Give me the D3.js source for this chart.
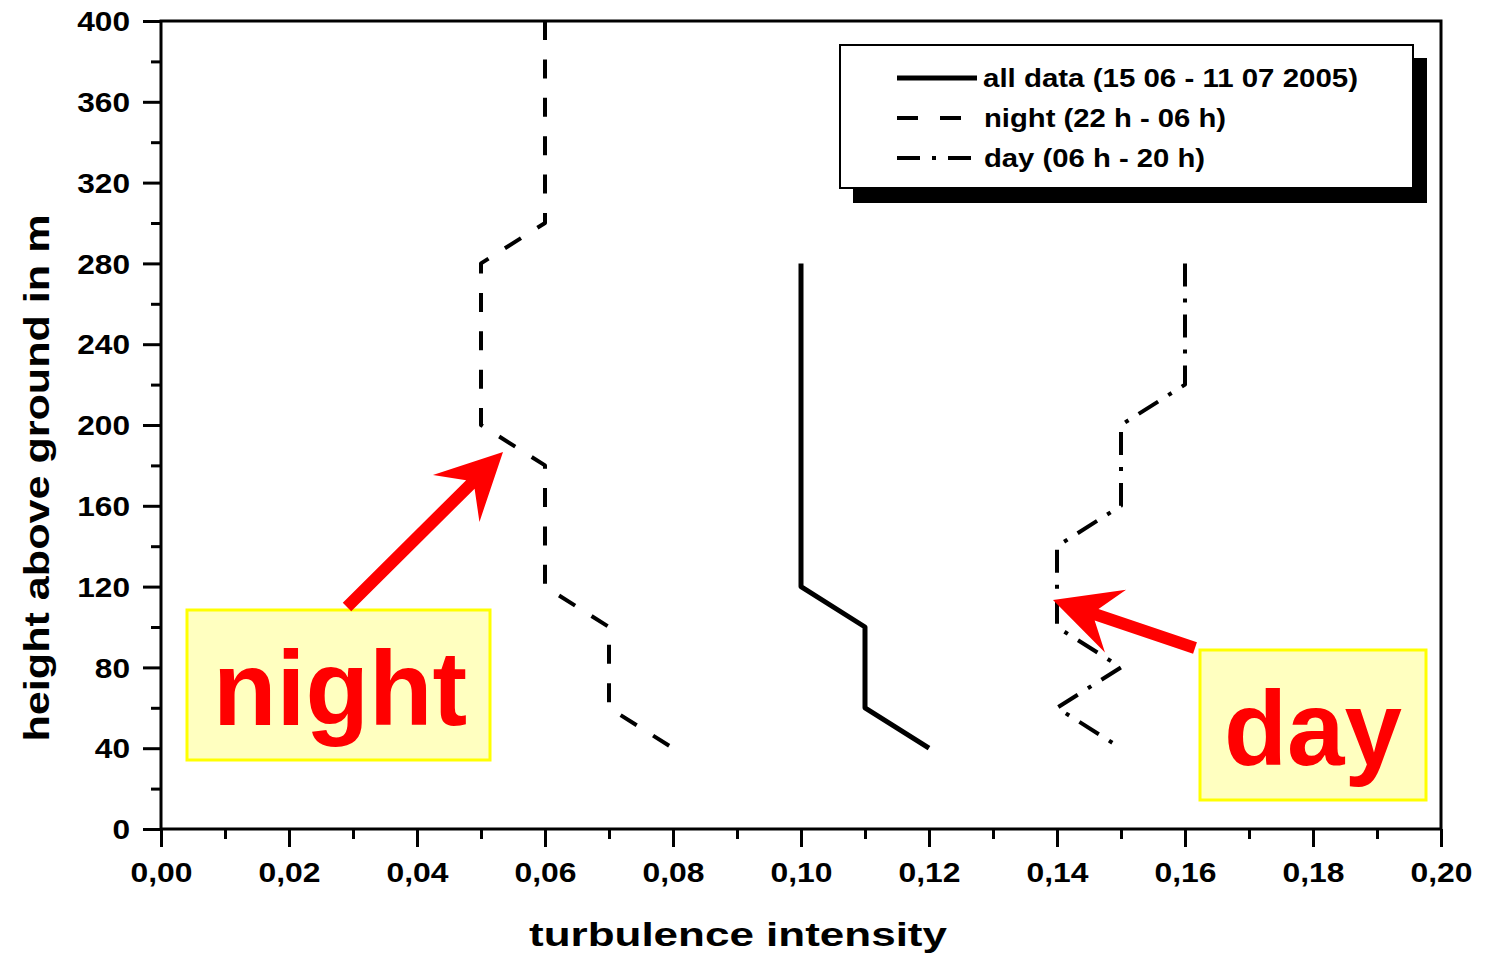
<!DOCTYPE html>
<html>
<head>
<meta charset="utf-8">
<script src="https://cdnjs.cloudflare.com/ajax/libs/d3/7.8.5/d3.min.js"></script>
<style>
  html, body { margin: 0; padding: 0; background: #fff; }
  svg { display: block; }
  text { font-family: "Liberation Sans", Arial, sans-serif; font-weight: bold; fill: #000; }
</style>
</head>
<body>
<svg id="chart" width="1489" height="956"></svg>
<script>
// Sodar profile heights (m) and turbulence intensity per series
const heights = [40, 60, 80, 100, 120, 140, 160, 180, 200, 220, 240, 260, 280, 300, 320, 340, 360, 380, 400];
const allData = [0.12, 0.11, 0.11, 0.11, 0.10, 0.10, 0.10, 0.10, 0.10, 0.10, 0.10, 0.10, 0.10];
const night   = [0.08, 0.07, 0.07, 0.07, 0.06, 0.06, 0.06, 0.06, 0.05, 0.05, 0.05, 0.05, 0.05, 0.06, 0.06, 0.06, 0.06, 0.06, 0.06];
const day     = [0.15, 0.14, 0.15, 0.14, 0.14, 0.14, 0.15, 0.15, 0.15, 0.16, 0.16, 0.16, 0.16];

const seriesNames = ["all data (15 06 - 11 07 2005)", "night (22 h - 06 h)", "day (06 h - 20 h)"];
const xTicks = [0, 0.02, 0.04, 0.06, 0.08, 0.10, 0.12, 0.14, 0.16, 0.18, 0.20];
const yTicks = [0, 40, 80, 120, 160, 200, 240, 280, 320, 360, 400];
const xTitle = "turbulence intensity";
const yTitle = "height above ground in m";

const svg = d3.select("#chart");
const x = d3.scaleLinear().domain([0, 0.2]).range([161, 1441]);
const y = d3.scaleLinear().domain([0, 400]).range([829, 21]);

// ---- axes ----
const fmt = d => d3.format(".2f")(d).replace(".", ",");

// minor ticks
svg.append("g").attr("transform", `translate(0,${y(0)})`)
  .call(d3.axisBottom(x).tickValues(d3.range(0.01, 0.2, 0.02)).tickSize(10).tickFormat(""))
  .call(g => g.select(".domain").remove())
  .call(g => g.selectAll("line").attr("stroke", "#000").attr("stroke-width", 3));
svg.append("g").attr("transform", `translate(${x(0)},0)`)
  .call(d3.axisLeft(y).tickValues(d3.range(20, 400, 40)).tickSize(10).tickFormat(""))
  .call(g => g.select(".domain").remove())
  .call(g => g.selectAll("line").attr("stroke", "#000").attr("stroke-width", 3));

// major ticks + labels
svg.append("g").attr("transform", `translate(0,${y(0)})`)
  .call(d3.axisBottom(x).tickValues(xTicks).tickSize(18).tickPadding(0).tickFormat(fmt))
  .call(g => g.select(".domain").remove())
  .call(g => g.selectAll("line").attr("stroke", "#000").attr("stroke-width", 3))
  .call(g => g.selectAll("text")
    .attr("y", 53).attr("dy", null)
    .style("font-size", "27px")
    .attr("textLength", 62).attr("lengthAdjust", "spacingAndGlyphs"));

svg.append("g").attr("transform", `translate(${x(0)},0)`)
  .call(d3.axisLeft(y).tickValues(yTicks).tickSize(18).tickPadding(0).tickFormat(d3.format("d")))
  .call(g => g.select(".domain").remove())
  .call(g => g.selectAll("line").attr("stroke", "#000").attr("stroke-width", 3))
  .call(g => g.selectAll("text")
    .attr("x", -31).attr("dy", "0.36em")
    .style("font-size", "27px")
    .attr("textLength", d => String(d).length * 17.6).attr("lengthAdjust", "spacingAndGlyphs"));

// frame
svg.append("rect")
  .attr("x", x(0)).attr("y", y(400))
  .attr("width", x(0.2) - x(0)).attr("height", y(0) - y(400))
  .attr("fill", "none").attr("stroke", "#000").attr("stroke-width", 3);

// axis titles
svg.append("text")
  .attr("x", 738).attr("y", 946).attr("text-anchor", "middle")
  .style("font-size", "34px")
  .attr("textLength", 418).attr("lengthAdjust", "spacingAndGlyphs")
  .text(xTitle);
svg.append("text")
  .attr("transform", "translate(49,478) rotate(-90)")
  .attr("text-anchor", "middle")
  .style("font-size", "35px")
  .attr("textLength", 527).attr("lengthAdjust", "spacingAndGlyphs")
  .text(yTitle);

// ---- profiles (drawn from the top down) ----
const line = d3.line().x(d => x(d.v)).y(d => y(d.h));
const toPts = vals => vals.map((v, i) => ({ h: heights[i], v })).reverse();

const styles = [
  { vals: allData, width: 5, dash: null },
  { vals: night, width: 4, dash: "19,19.4" },
  { vals: day, width: 4, dash: "23,12,4,12" }
];

svg.selectAll("path.profile").data(styles).join("path")
  .attr("class", "profile")
  .attr("d", s => line(toPts(s.vals)))
  .attr("fill", "none").attr("stroke", "#000")
  .attr("stroke-width", s => s.width)
  .attr("stroke-linejoin", "round")
  .attr("stroke-dasharray", s => s.dash);

// ---- legend ----
const lg = svg.append("g");
lg.append("rect").attr("x", 853).attr("y", 58).attr("width", 574).attr("height", 145).attr("fill", "#000");
lg.append("rect").attr("x", 840).attr("y", 45).attr("width", 573).attr("height", 143)
  .attr("fill", "#fff").attr("stroke", "#000").attr("stroke-width", 2);
const textLens = [375, 242, 221];
seriesNames.forEach((name, i) => {
  const cy = 78 + i * 40;
  lg.append("line")
    .attr("x1", 897).attr("x2", i === 1 ? 962 : 977).attr("y1", cy).attr("y2", cy)
    .attr("stroke", "#000").attr("stroke-width", i === 0 ? 5 : 4)
    .attr("stroke-dasharray", i === 0 ? null : (i === 1 ? "21,22" : "23,12,4,12"));
  lg.append("text")
    .attr("x", i === 0 ? 983 : 984).attr("y", cy + 9)
    .style("font-size", "26px")
    .attr("textLength", textLens[i]).attr("lengthAdjust", "spacingAndGlyphs")
    .text(name);
});

// ---- annotations ----
function arrow(tail, tip) {
  const dx = tail[0] - tip[0], dy = tail[1] - tip[1];
  const len = Math.hypot(dx, dy);
  const ux = dx / len, uy = dy / len, px = -uy, py = ux;
  const P = (a, b) => [tip[0] + ux * a + px * b, tip[1] + uy * a + py * b];
  const pts = [P(0, 0), P(66, 33), P(46, 6), P(len, 6), P(len, -6), P(46, -6), P(66, -33)];
  svg.append("polygon").attr("points", pts.map(p => p.join(",")).join(" ")).attr("fill", "#ff0000");
}

function note(label, bx, by, bw, bh, tx, ty, tw) {
  svg.append("rect").attr("x", bx).attr("y", by).attr("width", bw).attr("height", bh)
    .attr("fill", "#ffffc0").attr("stroke", "#ffff00").attr("stroke-width", 3);
  svg.append("text").attr("x", tx).attr("y", ty)
    .style("font-size", "106px").style("fill", "#ff0000")
    .attr("textLength", tw).attr("lengthAdjust", "spacingAndGlyphs")
    .text(label);
}

note("night", 187, 610, 303, 150, 213, 725, 254);
arrow([347, 607], [503, 452]);
note("day", 1200, 650, 226, 150, 1224, 765, 178);
arrow([1195, 648], [1053, 600]);
</script>
</body>
</html>
